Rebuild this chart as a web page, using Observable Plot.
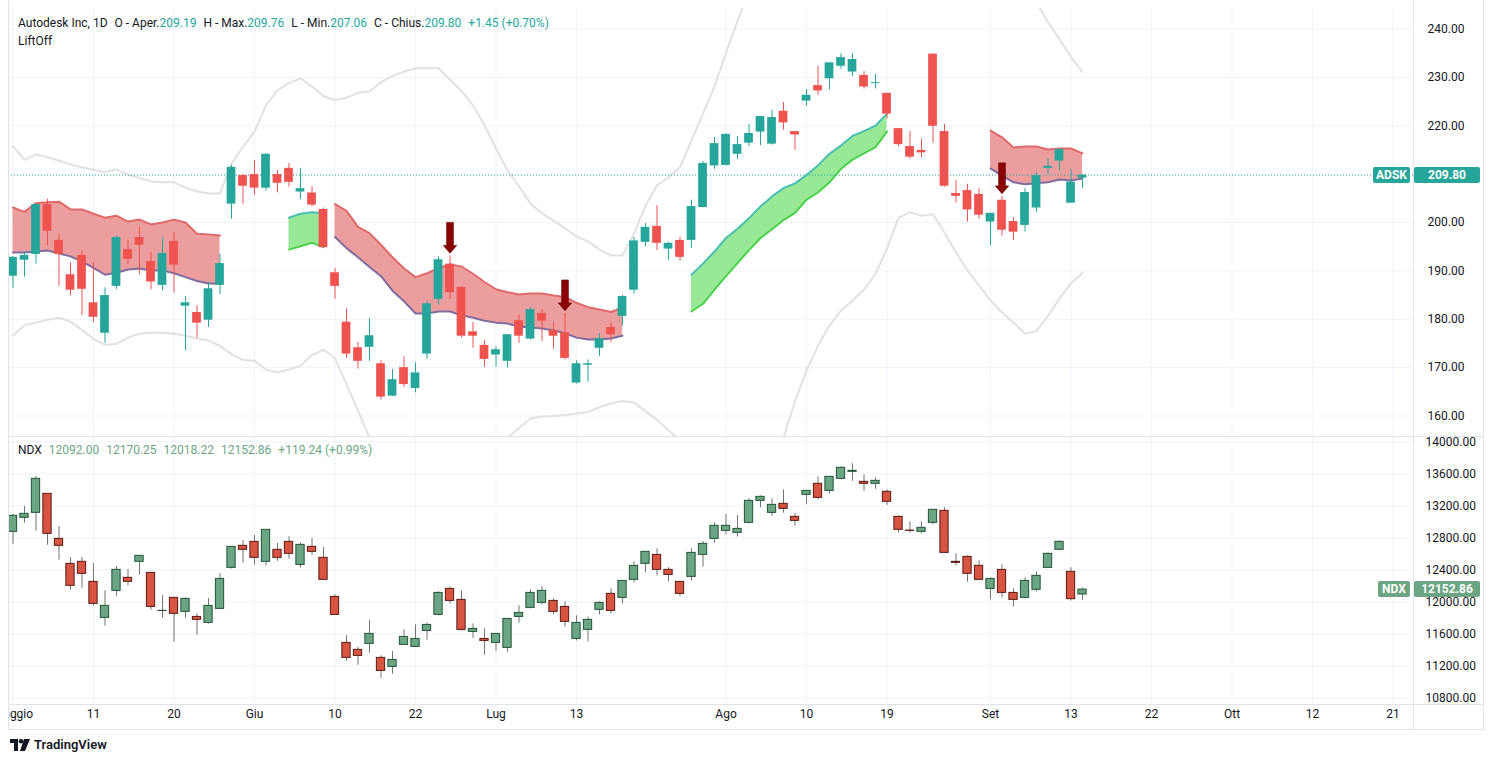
<!DOCTYPE html>
<html>
<head>
<meta charset="utf-8">
<script src="https://cdn.jsdelivr.net/npm/d3@7"></script>
<script src="https://cdn.jsdelivr.net/npm/@observablehq/plot@0.6"></script>
<style>
  html,body{margin:0;padding:0;background:#fff;}
  #root{position:relative;width:1493px;height:762px;overflow:hidden;font-family:Roboto,"Liberation Sans",sans-serif;color:#131722;}
  .pane{position:absolute;left:8px;overflow:hidden;}
  .lg{position:absolute;left:18px;font-size:12px;white-space:nowrap;display:flex;gap:7px;align-items:center;}
  .lg .v{color:#26a69a;}
  .lg .n{color:#6ba583;}
  .tag{position:absolute;height:16px;line-height:16px;color:#fff;font-size:12px;font-weight:bold;text-align:center;border-radius:2px;}
  .hl{position:absolute;background:#e0e3eb;}
  #logo{position:absolute;left:10px;top:737px;display:flex;align-items:center;gap:4px;font-size:13px;font-weight:600;color:#131722;}
</style>
</head>
<body>
<div id="root"></div>
<script>
// ---------- DATA ----------
const dates = [
 "2022-05-02","2022-05-03","2022-05-04","2022-05-05","2022-05-06","2022-05-09","2022-05-10","2022-05-11","2022-05-12","2022-05-13",
 "2022-05-16","2022-05-17","2022-05-18","2022-05-19","2022-05-20","2022-05-23","2022-05-24","2022-05-25","2022-05-26","2022-05-27",
 "2022-05-31","2022-06-01","2022-06-02","2022-06-03","2022-06-06","2022-06-07","2022-06-08","2022-06-09","2022-06-10","2022-06-13",
 "2022-06-14","2022-06-15","2022-06-16","2022-06-17","2022-06-21","2022-06-22","2022-06-23","2022-06-24","2022-06-27","2022-06-28",
 "2022-06-29","2022-06-30","2022-07-01","2022-07-05","2022-07-06","2022-07-07","2022-07-08","2022-07-11","2022-07-12","2022-07-13",
 "2022-07-14","2022-07-15","2022-07-18","2022-07-19","2022-07-20","2022-07-21","2022-07-22","2022-07-25","2022-07-26","2022-07-27",
 "2022-07-28","2022-07-29","2022-08-01","2022-08-02","2022-08-03","2022-08-04","2022-08-05","2022-08-08","2022-08-09","2022-08-10",
 "2022-08-11","2022-08-12","2022-08-15","2022-08-16","2022-08-17","2022-08-18","2022-08-19","2022-08-22","2022-08-23","2022-08-24",
 "2022-08-25","2022-08-26","2022-08-29","2022-08-30","2022-08-31","2022-09-01","2022-09-02","2022-09-06","2022-09-07","2022-09-08",
 "2022-09-09","2022-09-12","2022-09-13","2022-09-14"];

// x-axis ticks: trading-day index and label (future days continue the session count)
const tickIdx    = [0, 7, 14, 21, 28, 35, 42, 49, 62, 69, 76, 85, 92, 99, 106, 113, 120];
const tickLabels = ["Maggio","11","20","Giu","10","22","Lug","13","Ago","10","19","Set","13","22","Ott","12","21"];

const adskOpen  = [188.9,192.2,193.4,203.7,196.3,189.2,193.2,183.4,177.1,186.8,194.4,196.9,191.9,187.0,196.1,182.7,181.4,179.8,187.0,203.8,
 209.7,209.9,207.1,209.9,211.2,206.3,206.1,202.7,189.6,179.4,174.1,174.2,170.8,164.1,170.0,165.7,172.8,184.1,191.4,186.6,
 177.4,174.6,172.6,171.3,179.7,175.9,181.2,177.7,177.2,166.8,170.5,174.0,178.3,180.6,186.0,195.9,199.2,194.5,196.3,196.3,
 203.1,211.7,211.8,214.1,216.4,218.7,216.2,223.0,218.8,225.1,228.3,229.7,232.3,231.1,230.4,228.7,226.7,219.4,215.7,214.9,
 234.8,218.8,206.0,206.6,205.8,200.1,204.6,200.2,199.4,203.0,211.2,212.7,204.0,209.19];
const adskHigh  = [193.0,193.9,203.9,204.8,197.5,191.7,194.2,191.7,186.5,197.2,196.3,199.0,193.8,196.8,197.9,184.7,182.8,187.6,193.4,211.8,
 209.9,212.8,214.2,210.8,212.2,211.2,207.4,203.0,190.5,182.1,175.2,180.1,171.5,169.6,172.2,171.0,183.6,192.9,193.1,186.6,
 179.3,175.6,174.3,176.8,180.8,182.4,182.0,179.3,181.2,171.4,171.6,177.0,179.3,184.9,196.9,199.8,203.5,195.9,196.9,204.6,
 212.6,217.6,218.4,217.8,220.3,221.9,223.2,224.8,218.8,227.5,232.3,233.0,234.9,234.9,231.2,230.6,226.7,219.4,218.8,217.2,
 234.9,220.3,208.7,207.9,207.0,201.9,205.4,201.0,207.0,210.3,213.2,215.3,211.0,209.80];
const adskLow   = [186.4,188.7,191.4,195.2,186.8,184.8,180.8,179.3,175.0,186.2,191.3,189.2,186.1,185.9,185.4,173.5,176.1,178.3,185.1,200.7,
 203.8,205.7,206.5,206.1,207.3,204.8,203.2,194.6,184.1,171.9,169.7,171.3,163.3,164.0,165.9,164.8,171.7,182.9,184.1,176.1,
 174.0,170.1,170.1,169.9,175.0,175.7,175.4,173.8,171.6,166.6,167.0,172.3,175.2,178.6,185.2,195.0,194.2,192.2,192.0,194.7,
 203.0,211.0,211.7,213.0,215.7,215.9,216.0,219.1,214.9,224.1,226.3,227.4,231.7,230.1,227.6,227.6,221.4,215.7,213.1,213.4,
 216.4,207.3,204.0,200.1,200.7,195.1,197.2,196.3,198.0,202.1,210.0,210.6,204.0,207.06];
const adskClose = [192.8,193.2,203.7,198.2,193.4,186.0,186.2,180.4,184.9,196.9,192.4,195.3,187.7,193.6,191.2,183.4,179.2,186.3,191.5,211.4,
 207.5,207.1,214.1,208.1,208.3,207.0,203.6,194.8,186.8,172.8,171.3,176.6,163.9,167.5,166.5,168.9,183.2,192.3,185.5,176.5,
 176.5,171.7,173.7,176.8,176.5,182.0,179.6,176.5,171.9,170.8,170.8,176.0,176.8,184.7,196.2,199.0,195.7,195.7,192.8,203.3,
 212.2,216.3,218.2,216.1,218.4,221.9,221.7,220.6,218.1,226.3,227.2,233.0,234.1,233.7,228.0,228.9,222.4,216.1,213.5,214.4,
 219.9,207.5,205.4,202.6,201.5,201.9,198.4,198.0,206.2,209.7,211.6,215.1,208.35,209.80];

// Bollinger bands (gray)
const bbUpper = [215.8,213.0,214.1,213.5,212.8,212.0,211.4,210.9,210.4,211.0,209.9,209.2,208.5,208.3,208.3,207.2,206.4,206.0,206.0,212.2,
 215.6,218.8,224.2,227.3,228.8,229.8,228.1,226.1,225.3,225.8,226.8,227.1,229.0,230.3,231.2,231.9,231.9,231.9,229.5,227.2,
 224.2,220.1,215.3,210.8,207.5,203.9,201.9,200.4,198.8,197.1,196.1,194.4,193.2,193.2,197.7,203.5,207.7,209.3,211.4,217.0,
 222.5,228.1,235.1,241.7,248,253,257,260,262,264,266,268,270,271,271,270,269,266,262,258,
 256,255,254,253,252,251,250,249,248,245.5,241.4,237.9,234.2,231.1];
const bbLower = [176.6,178.8,179.3,179.9,180.3,179.5,177.8,175.9,174.7,174.9,176.2,177.0,177.2,177.2,177.0,176.6,176.0,175.6,174.5,172.8,
 171.6,171.4,169.6,169.0,169.6,170.4,172.6,173.7,171.9,166.6,161.1,155.5,152,149,147,146,146,146,148,150,
 152,154,155,155.5,157.5,159.5,159.9,160.0,160.2,160.5,160.8,161.8,162.6,163.1,162.8,161.0,159.2,157.0,155.0,153,
 151,150,149,149,150,151,153,155.5,163.1,169.4,174.5,178.7,181.8,183.9,186.1,189.4,194.6,201.0,202.1,201.4,
 201.7,197.9,193.8,190.1,187.0,183.9,181.4,179.3,177.0,177.6,180.7,184.3,187.4,189.6];

// LiftOff cloud (red / green segments)
const redTop = [203.1,202.2,204.0,204.2,204.3,202.7,202.7,201.8,201.0,201.4,200.2,200.6,199.6,200.0,200.6,200.0,197.7,197.5,197.3,
 null,null,null,null,null,null,null,null,null,
 203.8,202.4,199.1,197.8,195.4,192.8,190.5,188.7,189.5,190.6,191.3,190.9,189.4,187.7,186.2,185.6,185.1,185.3,185.3,184.9,184.6,183.4,182.5,182.0,181.5,182.4,
 null,null,null,null,null,null,null,null,null,null,null,null,null,null,null,null,null,null,null,null,null,null,null,null,null,null,null,null,null,null,null,
 219.0,217.6,215.5,215.7,215.7,215.1,215.3,215.3,214.3];
const redBottom = [193.8,193.8,194.0,194.2,193.6,193.0,191.9,190.6,189.2,189.6,190.3,190.5,190.1,190.1,189.5,188.7,187.9,187.4,187.4,
 null,null,null,null,null,null,null,null,null,
 197.0,194.7,192.8,190.8,188.9,185.9,183.7,181.2,181.2,181.6,181.6,180.8,180.3,179.7,179.3,179.1,178.5,178.3,178.1,177.7,177.1,176.2,175.8,175.8,176.0,176.6,
 null,null,null,null,null,null,null,null,null,null,null,null,null,null,null,null,null,null,null,null,null,null,null,null,null,null,null,null,null,null,null,
 211.2,209.7,208.3,207.9,208.1,208.3,208.9,208.7,209.1];
const greenTop = [null,null,null,null,null,null,null,null,null,null,null,null,null,null,null,null,null,null,null,null,null,null,null,null,
 201.0,201.8,202.1,201.9,
 null,null,null,null,null,null,null,null,null,null,null,null,null,null,null,null,null,null,null,null,null,null,null,null,null,null,null,null,null,null,null,
 189.2,191.5,194.0,196.8,198.7,200.9,203.3,205.4,207.1,208.1,209.8,211.8,214.2,215.9,217.9,218.9,220.0,222.5,
 null,null,null,null,null,null,null,null,null,null,null,null,null,null,null,null,null];
const greenBottom = [null,null,null,null,null,null,null,null,null,null,null,null,null,null,null,null,null,null,null,null,null,null,null,null,
 194.4,195.1,195.8,194.9,
 null,null,null,null,null,null,null,null,null,null,null,null,null,null,null,null,null,null,null,null,null,null,null,null,null,null,null,null,null,null,null,
 181.6,183.2,186.1,188.9,191.6,194.3,196.8,198.6,200.5,202.0,204.7,206.2,208.3,211.1,213.0,214.3,215.6,218.8,
 null,null,null,null,null,null,null,null,null,null,null,null,null,null,null,null,null];

// sell-signal arrows (trading-day index)
const arrowIdx = [38, 48, 86];

const ndxOpen  = [12875,13050,13112,13350,12787,12475,12500,12250,11800,12137,12300,12500,12362,11885,12050,11875,11812,11737,11912,12425,
 12700,12750,12500,12650,12750,12462,12687,12550,12062,11487,11400,11475,11300,11187,11462,11437,11637,11837,12162,12025,
 11625,11537,11487,11425,11812,11925,11987,12012,11937,11537,11650,11900,12100,12050,12275,12475,12587,12400,12250,12312,
 12587,12787,12887,12862,12987,13262,13112,13225,13062,13337,13475,13387,13537,13625,13500,13475,13375,13062,12891,12875,
 12987,13137,12500,12562,12450,12162,12400,12112,12050,12150,12425,12650,12375,12092.00];
const ndxHigh  = [13092,13192,13567,13350,12942,12554,12554,12479,12142,12442,12404,12575,12362,12079,12050,12050,11850,12042,12354,12687,
 12766,12829,12900,12729,12812,12737,12791,12679,12087,11579,11429,11766,11325,11379,11650,11712,11737,12125,12187,12137,
 11725,11662,11600,11787,11950,12150,12187,12037,12000,11825,11812,12000,12162,12262,12500,12625,12662,12425,12250,12662,
 12754,12991,13091,13079,13287,13325,13287,13400,13104,13387,13562,13562,13687,13725,13587,13550,13400,13075,13000,13000,
 13150,13175,12600,12575,12512,12300,12462,12162,12300,12375,12612,12762,12425,12170.25];
const ndxLow   = [12717,12983,12883,12708,12521,12146,12171,11946,11696,12071,12200,12333,11896,11796,11496,11796,11583,11721,11912,12412,
 12483,12458,12450,12508,12533,12425,12583,12275,11837,11258,11208,11358,11045,11095,11462,11437,11520,11825,11975,11633,
 11545,11333,11383,11370,11733,11912,11962,11837,11683,11512,11500,11837,11850,11975,12237,12362,12325,12250,12062,12262,
 12433,12733,12837,12812,12975,13175,13070,13108,12945,13220,13275,13345,13525,13508,13383,13408,13208,12862,12858,12850,
 12962,12612,12450,12245,12275,12025,12050,11937,12037,12125,12425,12650,12012,12018.22];
const ndxClose = [13075,13100,13537,12850,12700,12200,12350,11975,11950,12400,12250,12575,11937,11888,11850,12037,11775,11950,12287,12687,
 12650,12550,12900,12550,12600,12712,12625,12275,11837,11300,11325,11600,11137,11275,11562,11537,11712,12112,12012,11650,
 11662,11512,11600,11787,11862,12112,12137,11875,11750,11737,11775,11987,11887,12262,12450,12625,12400,12337,12100,12612,
 12725,12950,12950,12912,13262,13312,13212,13162,13012,13387,13300,13562,13675,13637,13475,13512,13250,12900,12887,12925,
 13150,12612,12487,12350,12275,12287,12112,12025,12262,12325,12600,12750,12033.62,12152.86];

const adskYTicks = [160,170,180,190,200,210,220,230,240];
const ndxYTicks  = [10800,11200,11600,12000,12400,12800,13200,13600,14000];

// ---------- CHART ----------
const UP = "#26a69a", DOWN = "#ef5350";
const NUP = "#6ba583", NDOWN = "#d75442", NUPB = "#225437", NDOWNB = "#5b1a13", NWICK = "#737375";
const GRID = "#f0f3fa";
const xDomain = [-0.391, 121.78];
const W = 1475, MR = 70;
const num = v => v == null ? NaN : v;

const adsk = dates.map((d, i) => ({
  i, d, o: adskOpen[i], h: adskHigh[i], l: adskLow[i], c: adskClose[i],
  bu: bbUpper[i], bl: bbLower[i],
  rt: num(redTop[i]), rb: num(redBottom[i]), gt: num(greenTop[i]), gb: num(greenBottom[i])
}));
const ndx = dates.map((d, i) => ({i, d, o: ndxOpen[i], h: ndxHigh[i], l: ndxLow[i], c: ndxClose[i]}));
const arrows = arrowIdx.map(i => adsk[i]);

const arrowSymbol = {
  draw(ctx) {
    ctx.moveTo(-3.4, -33.5); ctx.lineTo(3.4, -33.5); ctx.lineTo(3.4, -10.5);
    ctx.lineTo(6.7, -10.5); ctx.lineTo(0, -2.7); ctx.lineTo(-6.7, -10.5);
    ctx.lineTo(-3.4, -10.5); ctx.closePath();
  }
};

const style = {background: "transparent", fontFamily: "Roboto, 'Liberation Sans', sans-serif", fontSize: "12px", color: "#131722"};

const topPlot = Plot.plot({
  width: W, height: 436, marginLeft: 0, marginRight: MR, marginTop: 8, marginBottom: 0,
  style,
  x: {type: "linear", domain: xDomain, axis: null, label: null},
  y: {domain: [155.76, 244.24], axis: null, label: null},
  color: {type: "identity"},
  marks: [
    Plot.gridY(adskYTicks, {stroke: GRID, strokeOpacity: 1}),
    Plot.gridX(tickIdx, {stroke: GRID, strokeOpacity: 1}),
    Plot.axisY(adskYTicks, {anchor: "right", label: null, tickSize: 0, tickPadding: 14, tickFormat: d => d.toFixed(2), fill: "#131722"}),
    Plot.line(adsk, {x: "i", y: "bu", stroke: "#e1e1e1", strokeWidth: 2, clip: true}),
    Plot.line(adsk, {x: "i", y: "bl", stroke: "#e1e1e1", strokeWidth: 2, clip: true}),
    Plot.areaY(adsk, {x: "i", y1: "rb", y2: "rt", fill: "#ec9d9d", fillOpacity: 1}),
    Plot.line(adsk, {x: "i", y: "rt", stroke: "#e06a6a", strokeWidth: 2}),
    Plot.line(adsk, {x: "i", y: "rb", stroke: "#7f6c9f", strokeWidth: 2}),
    Plot.areaY(adsk, {x: "i", y1: "gb", y2: "gt", fill: "#98e898", fillOpacity: 1}),
    Plot.line(adsk, {x: "i", y: "gt", stroke: "#4cbfb4", strokeWidth: 2}),
    Plot.line(adsk, {x: "i", y: "gb", stroke: "#48d048", strokeWidth: 2}),
    Plot.ruleY([adskClose[adskClose.length - 1]], {stroke: UP, strokeDasharray: "1,2", strokeWidth: 1}),
    Plot.ruleX(adsk, {x: "i", y1: "l", y2: "h", stroke: d => d.c >= d.o ? UP : DOWN, strokeWidth: 1}),
    Plot.rect(adsk, {x1: d => d.i - 0.38, x2: d => d.i + 0.38, y1: "o", y2: "c", fill: d => d.c >= d.o ? UP : DOWN}),
    Plot.dot(arrows, {x: "i", y: "h", symbol: arrowSymbol, fill: "#8b0000", stroke: "#5c0000", strokeWidth: 0.6})
  ]
});

const botPlot = Plot.plot({
  width: W, height: 292, marginLeft: 0, marginRight: MR, marginTop: 0, marginBottom: 24,
  style,
  x: {type: "linear", domain: xDomain, label: null},
  y: {domain: [10717.5, 14066.25], axis: null, label: null},
  color: {type: "identity"},
  marks: [
    Plot.gridY(ndxYTicks, {stroke: GRID, strokeOpacity: 1}),
    Plot.gridX(tickIdx, {stroke: GRID, strokeOpacity: 1}),
    Plot.axisY(ndxYTicks, {anchor: "right", label: null, tickSize: 0, tickPadding: 12, tickFormat: d => d.toFixed(2), fill: "#131722"}),
    Plot.axisX(tickIdx, {anchor: "bottom", label: null, tickSize: 0, tickPadding: 5, tickFormat: d => tickLabels[tickIdx.indexOf(d)], fill: "#131722"}),
    Plot.ruleX(ndx, {x: "i", y1: "l", y2: "h", stroke: NWICK, strokeWidth: 1}),
    Plot.rect(ndx, {x1: d => d.i - 0.36, x2: d => d.i + 0.36, y1: "o", y2: "c",
      fill: d => d.c >= d.o ? NUP : NDOWN, stroke: d => d.c >= d.o ? NUPB : NDOWNB, strokeWidth: 1})
  ]
});

const root = document.getElementById("root");
function pane(el, top, h) {
  const div = document.createElement("div");
  div.className = "pane";
  div.style.top = top + "px"; div.style.width = W + "px"; div.style.height = h + "px";
  div.appendChild(el); root.appendChild(div);
}
pane(topPlot, 0, 436);
pane(botPlot, 436, 292);

function hl(x, y, w, h) {
  const d = document.createElement("div"); d.className = "hl";
  Object.assign(d.style, {left: x + "px", top: y + "px", width: w + "px", height: h + "px"});
  root.appendChild(d);
}
hl(8, 436, 1475, 1);   // pane separator
hl(8, 704, 1475, 1);   // time axis line
hl(1413, 0, 1, 729);   // price axis line
hl(1483, 0, 1, 729);   // right border
hl(8, 729, 1476, 1);   // bottom border
hl(8, 0, 1, 729);      // left border

function html(s) { const t = document.createElement("template"); t.innerHTML = s.trim(); return t.content.firstChild; }

// legends
const lastA = adsk[adsk.length - 1], prevA = adsk[adsk.length - 2];
const chA = lastA.c - prevA.c;
root.appendChild(html(`<div class="lg" style="top:16px"><span>Autodesk Inc, 1D</span>
 <span>O - Aper.<span class="v">${lastA.o.toFixed(2)}</span></span>
 <span>H - Max.<span class="v">209.76</span></span>
 <span>L - Min.<span class="v">${lastA.l.toFixed(2)}</span></span>
 <span>C - Chius.<span class="v">${lastA.c.toFixed(2)}</span></span>
 <span class="v">+${chA.toFixed(2)} (+${(chA / prevA.c * 100).toFixed(2)}%)</span></div>`));
root.appendChild(html(`<div class="lg" style="top:34px"><span>LiftOff</span></div>`));

const lastN = ndx[ndx.length - 1], prevN = ndx[ndx.length - 2];
const chN = lastN.c - prevN.c;
root.appendChild(html(`<div class="lg" style="top:443px"><span>NDX</span>
 <span class="n">${lastN.o.toFixed(2)}</span><span class="n">${lastN.h.toFixed(2)}</span>
 <span class="n">${lastN.l.toFixed(2)}</span><span class="n">${lastN.c.toFixed(2)}</span>
 <span class="n">+${chN.toFixed(2)} (+${(chN / prevN.c * 100).toFixed(2)}%)</span></div>`));

// last-price tags on the price axis
const yA = topPlot.scale("y").apply(lastA.c);
root.appendChild(html(`<div class="tag" style="left:1373px;width:37px;top:${yA - 8}px;background:${UP}">ADSK</div>`));
root.appendChild(html(`<div class="tag" style="left:1414px;width:66px;top:${yA - 8}px;background:${UP}">${lastA.c.toFixed(2)}</div>`));
const yN = 436 + botPlot.scale("y").apply(lastN.c);
root.appendChild(html(`<div class="tag" style="left:1378px;width:32px;top:${yN - 8}px;background:${NUP}">NDX</div>`));
root.appendChild(html(`<div class="tag" style="left:1414px;width:66px;top:${yN - 8}px;background:${NUP}">${lastN.c.toFixed(2)}</div>`));

// TradingView mark
root.appendChild(html(`<div id="logo"><svg width="20" height="12" viewBox="0 0 20 12"><path d="M0 0h8v12h-4v-8h-4z" fill="#131722"/><circle cx="11" cy="2.3" r="2.3" fill="#131722"/><path d="M14 0h6l-5 12h-5z" fill="#131722"/></svg><span>TradingView</span></div>`));
</script>
</body>
</html>
